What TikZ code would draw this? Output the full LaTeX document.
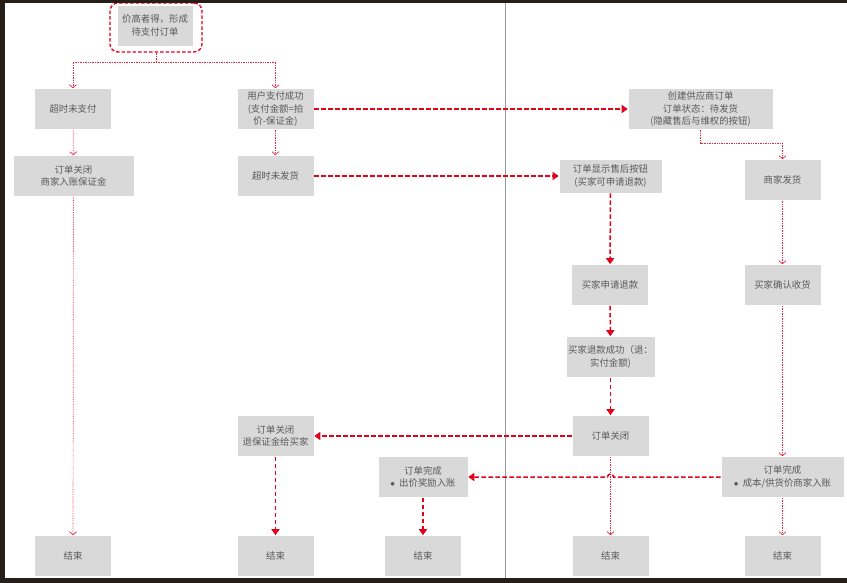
\documentclass[tikz,border=0pt]{standalone}
\usepackage{fontspec}
\setmainfont{Noto Sans CJK SC}
\usetikzlibrary{arrows.meta, positioning, calc}
\usepackage{xcolor}
\definecolor{redline}{HTML}{E2001A}
\definecolor{boxgrey}{HTML}{D9D9D9}
\definecolor{textgrey}{HTML}{595959}
\definecolor{darkedge}{HTML}{251E19}
\definecolor{lanegrey}{HTML}{9A9A9A}
\tikzset{
  block/.style={rectangle, draw=white, line width=0.6pt, fill=boxgrey, text=textgrey,
    minimum width=77pt, minimum height=41pt, inner sep=1pt, align=center,
    font=\fontsize{9.4}{12.5}\selectfont},
  blockWide/.style={block, minimum width=#1},
  topframe/.style={rectangle, rounded corners=8pt, draw=redline, line width=1.3pt,
    dash pattern=on 3.5pt off 2pt, minimum width=92pt, minimum height=49pt},
  arrowd/.style={-{Triangle[length=6pt, width=8pt]}, line width=1.5pt, draw=redline,
    dash pattern=on 4.5pt off 2.5pt},
  arrowt/.style={-{Straight Barb[length=3pt, width=7pt]}, line width=0.7pt, draw=redline!85,
    densely dotted},
}
\newcommand{\bulletmark}{$\bullet$\ \ }
\begin{document}
\begin{tikzpicture}[x=1pt, y=-1pt]
\useasboundingbox (0,0) rectangle (847,583);
% lane divider
\draw[lanegrey, line width=0.8pt] (505.7,3) -- (505.7,578);

% first column
\node[topframe] (frame) at (156,27.5) {};
\node[block, minimum width=76pt] (top) at (155,25.5) {价高者得，形成\\待支付订单};
\node[block] (nopay) at (73,109) {超时未支付};
\node[blockWide=121pt] (close1) at (73.5,176) {订单关闭\\商家入账保证金};
\node[block] (end1) at (73,556) {结束};

% second column
\node[block] (paid) at (275.5,109) {用户支付成功\\(支付金额=拍\\价-保证金)};
\node[block] (noship) at (275.5,176) {超时未发货};
\node[block] (close3) at (275.5,436) {订单关闭\\退保证金给买家};
\node[block] (end2) at (275.5,556) {结束};

% third column
\node[blockWide=90pt] (done1) at (423,477) {订单完成\\\bulletmark 出价奖励入账};
\node[block] (end3) at (423,556) {结束};

% right lane
\node[blockWide=145pt] (supply) at (700.5,109) {创建供应商订单\\订单状态：待发货\\(隐藏售后与维权的按钮)};
\node[blockWide=103pt, minimum height=34pt] (aftersale) at (610.5,176) {订单显示售后按钮\\(买家可申请退款)};
\node[block] (refund) at (610,285) {买家申请退款};
\node[blockWide=89pt] (refundok) at (610.5,357) {买家退款成功（退：\\实付金额)};
\node[block] (close2) at (610.5,436) {订单关闭};
\node[block] (end4) at (610.5,556) {结束};

\node[block] (ship) at (782.5,180) {商家发货};
\node[block] (receive) at (782.5,285) {买家确认收货};
\node[blockWide=123pt] (done2) at (782.5,477) {订单完成\\\bulletmark 成本/供货价商家入账};
\node[block] (end5) at (782.5,556) {结束};

% connectors
\coordinate (incoming) at (156,-8);
\coordinate (split) at (156,62);
\draw[arrowd] (incoming) -- (frame.north);
\draw[arrowt] (frame.south) -- (split) -| (nopay.north);
\draw[arrowt] (split) -| (paid.north);
\draw[arrowt] (nopay) -- (close1);
\draw[arrowt] (close1) -- (end1);
\draw[arrowt] (paid) -- (noship);
\draw[arrowd] (paid) -- (supply);
\draw[arrowd] (noship) -- (aftersale);
\draw[arrowt] (supply.south) -- ++(0,14) -| (ship.north);
\draw[arrowd] (aftersale) -- (refund);
\draw[arrowd] (refund) -- (refundok);
\draw[arrowd] (refundok) -- (close2);
\draw[arrowd] (close2) -- (close3);
\draw[arrowd] (close3) -- (end2);
\draw[arrowt] (close2) -- (end4);
\draw[arrowt] (ship) -- (receive);
\draw[arrowt] (receive) -- (done2);
% small hop where the line crosses the refund lane
\draw[arrowd] (done2.west) -- ($(close2.south |- done2.west)+(3,0)$)
  arc[start angle=0, end angle=-180, radius=3] -- (done1.east);
\draw[arrowd] (done1) -- (end3);
\draw[arrowt] (done2) -- (end5);

% dark edges of the screenshot
\fill[darkedge] (0,0) rectangle (847,3);
\fill[darkedge] (0,0) rectangle (5,583);
\fill[darkedge] (0,577.5) rectangle (847,583);
\end{tikzpicture}
\end{document}
